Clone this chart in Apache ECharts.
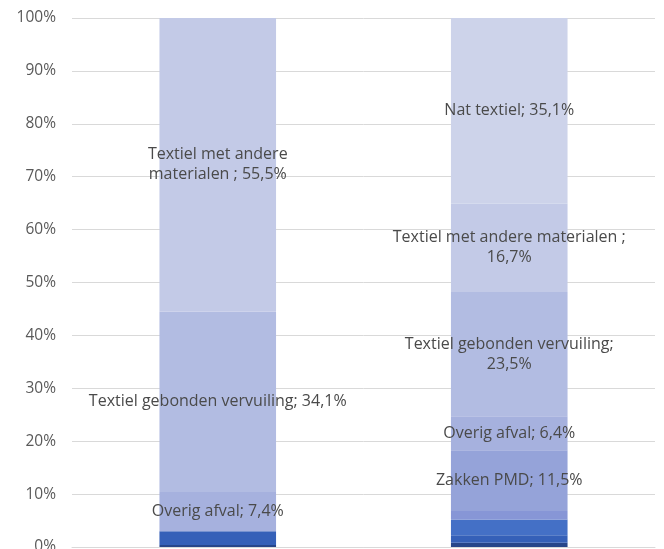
<!DOCTYPE html>
<html>
<head>
<meta charset="utf-8">
<script src="https://cdn.jsdelivr.net/npm/echarts@6/dist/echarts.min.js"></script>
<style>html,body{margin:0;padding:0;background:#fff;}#c{width:664px;height:549px;}</style>
</head>
<body>
<div id="c"></div>
<script>
// Categories (two stacked bars)
const categories = ['A', 'B'];
// Series, bottom to top (percentages)
const seriesNames = ['Rest 1', 'Rest 2', 'Rest 3', 'Rest 4', 'Zakken PMD', 'Overig afval', 'Textiel gebonden vervuiling', 'Textiel met andere materialen ', 'Nat textiel'];
const rest1 = [0.4, 0.8];
const rest2 = [2.6, 1.4];
const rest3 = [0, 3.0];
const rest4 = [0, 1.6];
const zakkenPMD = [0, 11.5];
const overigAfval = [7.4, 6.4];
const textielGebonden = [34.1, 23.5];
const textielAndere = [55.5, 16.7];
const natTextiel = [0, 35.1];
const seriesValues = [rest1, rest2, rest3, rest4, zakkenPMD, overigAfval, textielGebonden, textielAndere, natTextiel];
const showLabel = [false, false, false, false, true, true, true, true, true];
const colors = ['#27468a', '#3560b8', '#4470c6', '#8796d6', '#95a3d9', '#a6b1de', '#b2bce2', '#c3cae7', '#cdd3ea'];
const yTicks = [0, 10, 20, 30, 40, 50, 60, 70, 80, 90, 100];

function fmt(v) { return String(v.toFixed(1)).replace('.', ','); }
function labelText(p) {
  const name = p.seriesName, v = fmt(p.value) + '%';
  if (name === 'Textiel met andere materialen ') {
    if (p.dataIndex === 0) return 'Textiel met andere\nmaterialen ; ' + v;
    return 'Textiel met andere materialen ;\n' + v;
  }
  if (name === 'Textiel gebonden vervuiling' && p.dataIndex === 1) return 'Textiel gebonden vervuiling;\n' + v;
  return name + '; ' + v;
}

const chart = echarts.init(document.getElementById('c'), null, {renderer: 'canvas'});
chart.setOption({
  animation: false,
  backgroundColor: '#fff',
  textStyle: {fontFamily: 'Open Sans'},
  grid: {left: 72, right: 9, top: 18, bottom: 2, containLabel: false, outerBoundsMode: 'none'},
  xAxis: {
    type: 'category', data: categories,
    axisLine: {show: true, lineStyle: {color: '#d9d9d9'}},
    axisTick: {show: false}, axisLabel: {show: false}
  },
  yAxis: {
    type: 'value', min: 0, max: 100, interval: 10,
    axisLabel: {formatter: v => v + '%', color: '#595959', fontSize: 15.5, margin: 16, fontFamily: 'Open Sans'},
    axisLine: {show: false}, axisTick: {show: false},
    splitLine: {lineStyle: {color: '#d9d9d9', width: 1}}
  },
  series: seriesNames.map((n, i) => ({
    name: n, type: 'bar', stack: 'total', barWidth: '40%',
    data: seriesValues[i].map(v => v === 0 ? null : v),
    itemStyle: {color: colors[i]},
    label: {
      show: showLabel[i], position: 'inside', formatter: labelText,
      color: '#4a4a4a', fontSize: 16, lineHeight: 20, fontFamily: 'Open Sans'
    }
  }))
});
</script>
</body>
</html>
